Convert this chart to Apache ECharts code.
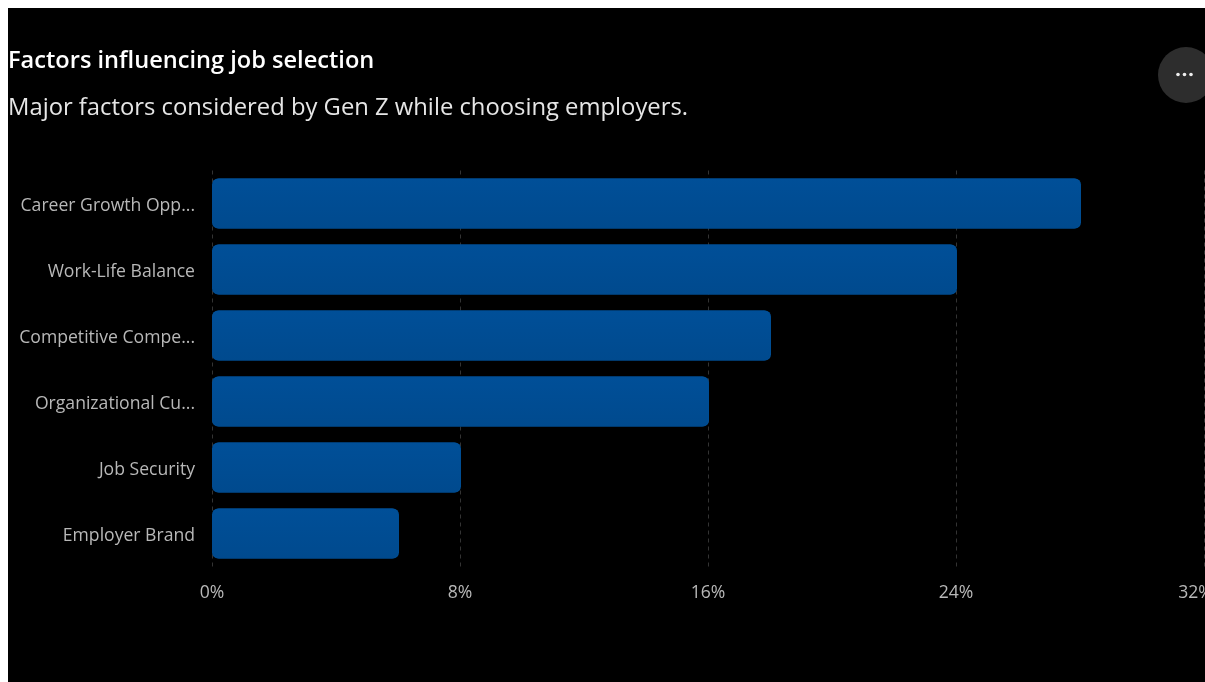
<!DOCTYPE html>
<html>
<head>
<meta charset="utf-8">
<title>Factors influencing job selection</title>
<script src="https://cdn.jsdelivr.net/npm/echarts@6/dist/echarts.min.js"></script>
<style>
  html, body { margin: 0; padding: 0; background: #fff; width: 1205px; height: 682px; overflow: hidden; }
  #chart { position: absolute; left: 8px; top: 8px; width: 1197px; height: 674px; background: #000; }
</style>
</head>
<body>
<div id="chart"></div>
<script>
const titleText = 'Factors influencing job selection';
const subtitleText = 'Major factors considered by Gen Z while choosing employers.';
const categories = ['Career Growth Opp...', 'Work-Life Balance', 'Competitive Compe...', 'Organizational Cu...', 'Job Security', 'Employer Brand'];
const shares = [28, 24, 18, 16, 8, 6];
const axisMax = 32;
const axisStep = 8;
const fontFamily = '"Open Sans", "Noto Sans", sans-serif';

const chart = echarts.init(document.getElementById('chart'), null, { renderer: 'canvas' });
chart.setOption({
  backgroundColor: '#000',
  animation: false,
  title: [
    { text: titleText, left: 0, top: 41, padding: 0,
      textStyle: { color: '#fff', fontFamily, fontWeight: 600, fontSize: 23.6 } },
    { text: subtitleText, left: 0, top: 88, padding: 0,
      textStyle: { color: '#e6e6e6', fontFamily, fontWeight: 400, fontSize: 23.8 } }
  ],
  grid: { left: 204, right: 1, top: 162.5, bottom: 115.5, outerBoundsMode: 'none' },
  xAxis: {
    type: 'value', min: 0, max: axisMax, interval: axisStep,
    axisLine: { show: false }, axisTick: { show: false },
    axisLabel: {
      color: '#b8b8b8', fontFamily, fontSize: 17.6, margin: 17,
      // The last label sits at the right edge, so it is nudged inward.
      formatter: (value) => value === axisMax ? `{edge|${value}%}` : `${value}%`,
      rich: { edge: { color: '#b8b8b8', fontFamily, fontSize: 17.6, padding: [0, 17, 0, 0] } }
    },
    splitLine: { show: true, lineStyle: { color: '#333', type: [4, 4], width: 1 } }
  },
  yAxis: {
    type: 'category', inverse: true, data: categories,
    axisLine: { show: false }, axisTick: { show: false },
    axisLabel: {
      margin: 17,
      formatter: (name) => `{name|${name}}`,
      rich: { name: { color: '#b8b8b8', fontFamily, fontSize: 17.6, padding: [4, 0, 0, 0] } }
    }
  },
  series: [{
    type: 'bar', data: shares, barWidth: 50,
    itemStyle: {
      borderRadius: 6,
      shadowColor: '#004d93',
      shadowBlur: 0,
      shadowOffsetX: 1,
      color: { type: 'linear', x: 0, y: 0, x2: 0, y2: 1,
        colorStops: [{ offset: 0, color: '#004f98' }, { offset: 1, color: '#004a8e' }] }
    }
  }],
  graphic: [
    { type: 'circle', shape: { cx: 1178, cy: 67, r: 28 }, style: { fill: '#2d2d2d' } },
    { type: 'circle', shape: { cx: 1170, cy: 66.5, r: 1.8 }, style: { fill: '#eee' } },
    { type: 'circle', shape: { cx: 1176.5, cy: 66.5, r: 1.8 }, style: { fill: '#eee' } },
    { type: 'circle', shape: { cx: 1183, cy: 66.5, r: 1.8 }, style: { fill: '#eee' } }
  ]
});
</script>
</body>
</html>
